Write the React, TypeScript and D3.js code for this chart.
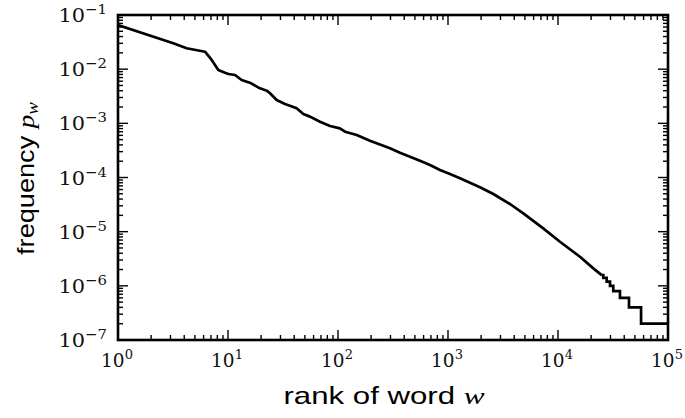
import React, { useEffect, useRef } from 'react';
import * as d3 from 'd3';

// word rank vs frequency
const ranks = [1, 3.18, 4.21, 6.18, 7.11, 8.16, 9.39, 10.1, 11.6, 13.3, 15.8, 19.5, 22.5, 24.1, 27.7, 33.0,
  42.1, 48.4, 55.6, 68.6, 84.6, 104, 116, 148, 195, 297, 366, 556, 686, 846, 1042, 1285, 1954, 2582,
  3661, 4839, 7340, 10420, 15850, 20940, 24950];
const freqs = [0.0653, 0.03, 0.0243, 0.021, 0.0148, 0.00966, 0.00861, 0.00815, 0.0078, 0.0063, 0.00563,
  0.00443, 0.00401, 0.00359, 0.0027, 0.00228, 0.0019, 0.00149, 0.00133, 0.00107, 0.000893, 0.000809,
  0.000701, 0.000609, 0.000479, 0.000346, 0.000287, 0.000204, 0.00017, 0.000138, 0.000116, 9.67e-5,
  6.59e-5, 4.96e-5, 3.24e-5, 2.18e-5, 1.15e-5, 6.52e-6, 3.44e-6, 2.1e-6, 1.58e-6];

// rare words: counts of 7..1 give a staircase
const tailRanks = [24950, 25800, 27700, 29700, 31800, 36600, 44200, 56900, 100000];
const tailFreqs = [1.58e-6, 1.4e-6, 1.2e-6, 1.0e-6, 8e-7, 6e-7, 4e-7, 2e-7, 2e-7];

const xTickExps = [0, 1, 2, 3, 4, 5];
const yTickExps = [-7, -6, -5, -4, -3, -2, -1];

const App: React.FC = () => {
  const svgRef = useRef<SVGSVGElement>(null);

  useEffect(() => {
    if (!svgRef.current) return;
    const svg = d3.select(svgRef.current);
    svg.selectAll('*').remove();

    const width = 685;
    const height = 418;
    const margin = { top: 15, right: 17, bottom: 78, left: 118 };

    const x = d3.scaleLog().domain([1, 1e5]).range([margin.left, width - margin.right]);
    const y = d3.scaleLog().domain([1e-7, 1e-1]).range([height - margin.bottom, margin.top]);

    const x0 = margin.left, x1 = width - margin.right;
    const y0 = height - margin.bottom, y1 = margin.top;

    svg.append('clipPath').attr('id', 'plot-clip')
      .append('rect')
      .attr('x', x0).attr('y', y1)
      .attr('width', x1 - x0).attr('height', y0 - y1);

    const pts = ranks.map((r, i) => [r, freqs[i]] as [number, number]);
    const tail = tailRanks.map((r, i) => [r, tailFreqs[i]] as [number, number]);

    const line = d3.line<[number, number]>().x(d => x(d[0])).y(d => y(d[1]));
    const stepLine = d3.line<[number, number]>().x(d => x(d[0])).y(d => y(d[1])).curve(d3.curveStepAfter);

    const g = svg.append('g').attr('clip-path', 'url(#plot-clip)');
    g.append('path').datum(pts)
      .attr('fill', 'none').attr('stroke', '#000').attr('stroke-width', 2.7)
      .attr('stroke-linejoin', 'round').attr('d', line);
    g.append('path').datum(tail)
      .attr('fill', 'none').attr('stroke', '#000').attr('stroke-width', 2.7)
      .attr('stroke-linejoin', 'miter').attr('d', stepLine);

    // ticks on all four sides, pointing in
    const isMajor = (v: number) => Math.abs(Math.log10(v) - Math.round(Math.log10(v))) < 1e-9;
    const ticks = svg.append('g').attr('stroke', '#000').attr('stroke-width', 1.4);
    x.ticks().forEach(v => {
      const len = isMajor(v) ? 10 : 5;
      ticks.append('line').attr('x1', x(v)).attr('x2', x(v)).attr('y1', y0).attr('y2', y0 - len);
      ticks.append('line').attr('x1', x(v)).attr('x2', x(v)).attr('y1', y1).attr('y2', y1 + len);
    });
    y.ticks().forEach(v => {
      const len = isMajor(v) ? 10 : 5;
      ticks.append('line').attr('y1', y(v)).attr('y2', y(v)).attr('x1', x0).attr('x2', x0 + len);
      ticks.append('line').attr('y1', y(v)).attr('y2', y(v)).attr('x1', x1).attr('x2', x1 - len);
    });

    svg.append('rect')
      .attr('x', x0).attr('y', y1)
      .attr('width', x1 - x0).attr('height', y0 - y1)
      .attr('fill', 'none').attr('stroke', '#000').attr('stroke-width', 2.6);

    // tick labels 10^k
    xTickExps.forEach(e => {
      const t = svg.append('text')
        .attr('x', x(10 ** e) - 1)
        .attr('y', 367)
        .attr('text-anchor', 'middle')
        .attr('font-family', 'DejaVu Serif')
        .attr('font-size', 18.5)
        .attr('fill', '#111');
      t.append('tspan').text('10');
      t.append('tspan').attr('dy', -8).attr('font-size', 13).text(String(e));
    });
    yTickExps.forEach(e => {
      const t = svg.append('g')
        .attr('transform', `translate(107,${y(10 ** e) + 7}) scale(1.1,1)`)
        .append('text')
        .attr('text-anchor', 'end')
        .attr('font-family', 'DejaVu Serif')
        .attr('font-size', 19)
        .attr('fill', '#111');
      t.append('tspan').text('10');
      t.append('tspan').attr('dy', -8).attr('font-size', 13.5).text(`\u2212${-e}`);
    });

    // axis labels
    const xl = svg.append('g')
      .attr('transform', `translate(${(x0 + x1) / 2 - 9},404) scale(1.3,1)`)
      .append('text')
      .attr('text-anchor', 'middle')
      .attr('font-family', 'Liberation Sans')
      .attr('font-size', 24);
    xl.append('tspan').text('rank of word ');
    xl.append('tspan').attr('font-family', 'Liberation Serif').attr('font-style', 'italic').text('w');

    const yl = svg.append('g')
      .attr('transform', `translate(34,${(y0 + y1) / 2 + 1}) rotate(-90) scale(1.18,1)`)
      .append('text')
      .attr('text-anchor', 'middle')
      .attr('font-family', 'Liberation Sans')
      .attr('font-size', 23);
    yl.append('tspan').text('frequency ');
    yl.append('tspan').attr('font-family', 'Liberation Serif').attr('font-style', 'italic').text('p');
    yl.append('tspan').attr('font-family', 'Liberation Serif').attr('font-style', 'italic')
      .attr('font-size', 16).attr('dy', 4).text('w');
  }, []);

  return (
    <svg ref={svgRef} width="685" height="418"
      style={{ position: 'absolute', left: 0, top: 0, background: '#fff' }} />
  );
};

export default App;
